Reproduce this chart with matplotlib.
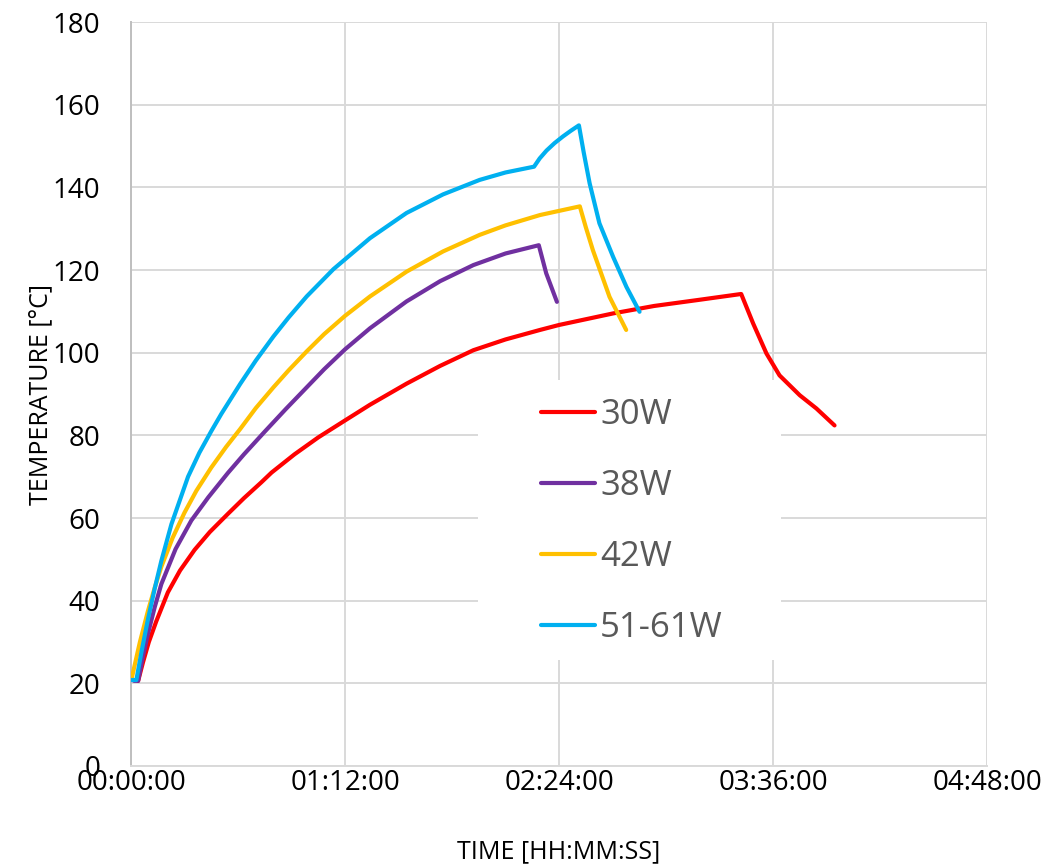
import matplotlib
matplotlib.use("Agg")
import matplotlib.pyplot as plt
import matplotlib.patches as patches
from matplotlib.ticker import FuncFormatter, MultipleLocator

plt.rcParams['font.family'] = ['Open Sans', 'DejaVu Sans']

# time in minutes, temperature in degC
t_30w = [2.4, 4, 6, 8.5, 12.4, 16.5, 21.4, 26.5, 32.6, 38, 43.8, 47.3, 55, 63, 72, 80.4, 92.7,
         104, 115.2, 126, 137.6, 144, 162.2, 176, 191.3, 205.3, 209.3, 213.8, 218.2, 225, 230.6,
         236.7]
T_30w = [20.6, 25, 30, 35, 42, 47.3, 52.3, 56.6, 61, 64.8, 68.6, 71.0, 75.4, 79.5, 83.6, 87.4,
         92.5, 96.8, 100.6, 103.2, 105.5, 106.7, 109.5, 111.3, 112.8, 114.2, 107.1, 99.8, 94.5,
         89.7, 86.5, 82.4]

t_38w = [1.0, 2.4, 4, 5.7, 8, 10.2, 15, 20.3, 26, 32.6, 38, 45, 52, 59.1, 65, 72, 80.4, 92.7,
         104, 115.2, 126, 137.2, 139.7, 143.3]
T_38w = [20.6, 20.6, 26.5, 32, 38.5, 44, 52.5, 59.4, 65, 70.9, 75.4, 80.9, 86.3, 91.6, 96.0,
         100.8, 105.9, 112.4, 117.3, 121.2, 124, 126, 119.2, 112.3]

t_42w = [0.3, 3, 5.7, 8, 10.2, 14, 18, 22, 27, 32, 36.7, 42, 47.9, 53, 59.1, 65, 72, 80.4, 92.7,
         105, 117.3, 126, 137.6, 151, 153, 155.4, 161, 166.6]
T_42w = [21.4, 30, 37.5, 43.2, 48.2, 55.2, 61.3, 66.6, 72.2, 77.2, 81.5, 86.6, 91.6, 95.7, 100.3,
         104.5, 108.9, 113.6, 119.6, 124.5, 128.5, 130.8, 133.3, 135.4, 130.4, 124.8, 113.5, 105.5]

t_51w = [0.1, 1.8, 3.5, 5.7, 8, 10.2, 13.6, 19.2, 23, 27, 30.4, 36.7, 42, 47.9, 53, 59.1, 68.1,
         80.4, 92.7, 105, 117.3, 126, 135.6, 137.5, 139.8, 142.5, 145.3, 148, 150.7, 152.3,
         154.3, 157.6, 162.2, 166.7, 171.1]
T_51w = [20.8, 20.8, 27.5, 35.5, 43, 49.6, 58.5, 70, 75.8, 81, 85.2, 92.4, 98.1, 103.9, 108.5,
         113.6, 120.2, 127.7, 133.8, 138.3, 141.8, 143.6, 145, 147.0, 148.9, 150.7, 152.3, 153.7,
         155, 148.5, 141, 131.3, 123.2, 115.9, 109.9]

series = [("30W", t_30w, T_30w, "#FF0000"),
          ("38W", t_38w, T_38w, "#7030A0"),
          ("42W", t_42w, T_42w, "#FFC000"),
          ("51-61W", t_51w, T_51w, "#00B0F0")]

fig = plt.figure(figsize=(10.48, 8.67), dpi=100)
ax = fig.add_axes([0.125, 0.1165, 0.8168, 0.8581])

for name, t, T, col in series:
    ax.plot(t, T, color=col, lw=3, label=name, solid_capstyle='round',
            solid_joinstyle='round', zorder=3)

ax.set_xlim(0, 288)
ax.set_ylim(0, 180)
ax.xaxis.set_major_locator(MultipleLocator(72))
ax.yaxis.set_major_locator(MultipleLocator(20))
ax.xaxis.set_major_formatter(FuncFormatter(lambda v, _: "%02d:%02d:00" % (int(v // 60), int(v % 60))))

ax.set_axisbelow(True)
ax.grid(True, color="#d9d9d9", lw=1.4)
for s in ['top', 'right']:
    ax.spines[s].set_visible(False)
ax.spines['left'].set_color("#bfbfbf")
ax.spines['bottom'].set_color("#d9d9d9")
ax.spines['left'].set_linewidth(1.4)
ax.spines['bottom'].set_linewidth(1.4)
ax.tick_params(axis='both', length=0, labelsize=20, colors='black')
ax.tick_params(axis='x', pad=2)
ax.tick_params(axis='y', pad=22)

ax.set_xlabel("TIME [HH:MM:SS]", fontsize=18, va='center')
ax.set_ylabel("TEMPERATURE [°C]", fontsize=18, va='center')
ax.xaxis.set_label_coords(0.5, -0.1156)
ax.yaxis.set_label_coords(-0.105, 0.5)

# white box behind legend (hides gridlines like the Excel legend)
ax.add_patch(patches.Rectangle((0.405, 0.1425), 0.354, 0.3765, transform=ax.transAxes,
                               facecolor='white', edgecolor='none', zorder=1.5))
leg = ax.legend(loc='center left', bbox_to_anchor=(0.479, 0.3286), frameon=False,
                fontsize=25, handlelength=1.55, handletextpad=0.15, labelspacing=1.06,
                borderpad=0, borderaxespad=0)
for txt in leg.get_texts():
    txt.set_color("#595959")

fig.savefig('out.png', dpi=100)
